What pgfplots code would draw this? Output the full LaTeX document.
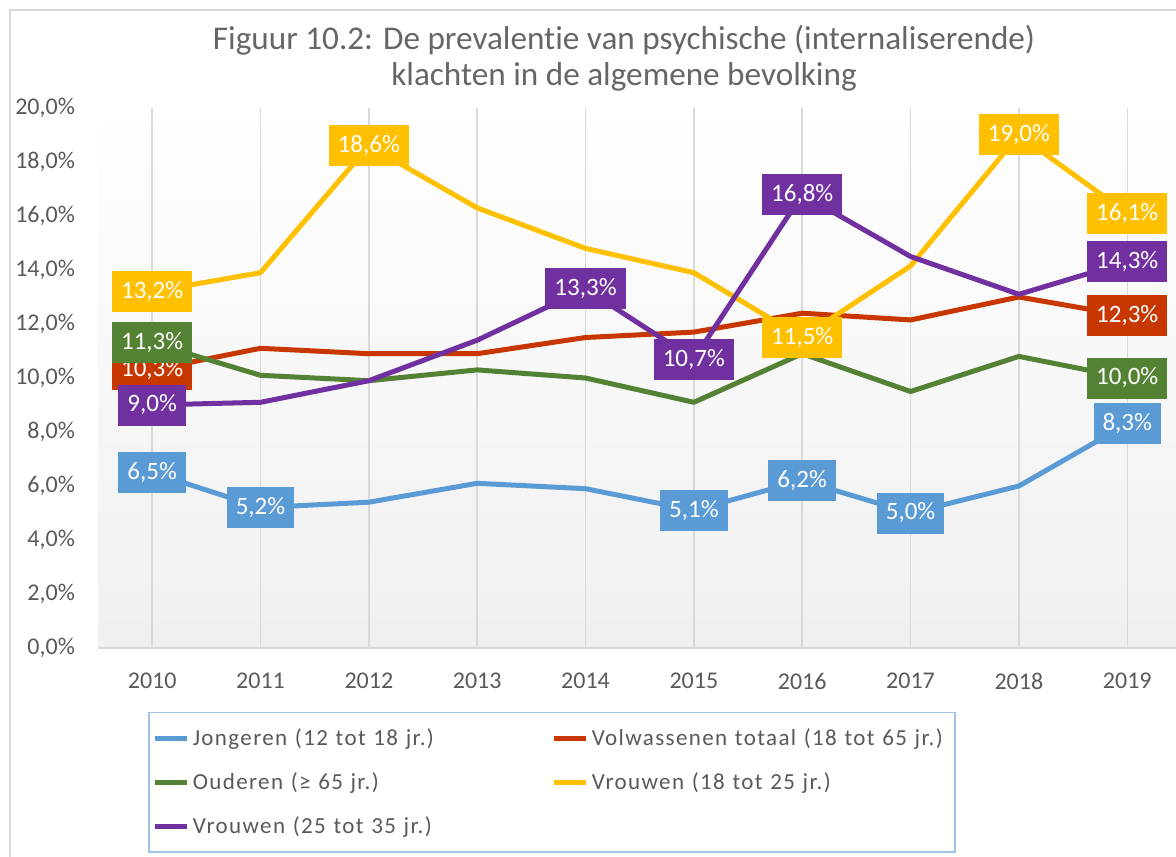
\documentclass[border=0pt]{standalone}
\usepackage{fontspec}
\setmainfont{Carlito}[Ligatures={NoCommon}]
\newfontfamily\legfont[LetterSpace=6,Ligatures={NoCommon}]{Carlito}
\usepackage{pgfplots}
\pgfplotsset{compat=1.18}

\definecolor{cBlue}{HTML}{5B9BD5}
\definecolor{cRed}{HTML}{C83700}
\definecolor{cGreen}{HTML}{548235}
\definecolor{cYellow}{HTML}{FFC000}
\definecolor{cPurple}{HTML}{7030A0}
\definecolor{cText}{HTML}{595959}
\definecolor{cTitle}{HTML}{666666}
\definecolor{cGrid}{HTML}{D9D9D9}
\definecolor{cLegBorder}{HTML}{9DC3E6}

\pgfplotsset{
  serie/.style={color=#1, line width=2.5pt, line join=round, mark=none},
  lbl/.style={draw=none, mark=none, forget plot, point meta=y,
    nodes near coords={\pgfmathprintnumber[fixed,fixed zerofill,precision=1,use comma]{\pgfplotspointmeta}\%},
    nodes near coords style={fill=#1, text=white, anchor=center,
      font=\fontsize{12.5}{14}\selectfont, inner xsep=4.5pt, inner ysep=0pt,
      minimum height=20.5pt, /pgf/number format/assume math mode=true}},
}

\begin{document}
\begin{tikzpicture}
\useasboundingbox (-49pt,-104pt) rectangle (539pt,324pt);
\draw[cGrid, line width=0.75pt] (-44pt,-110pt) -- (-44pt,319pt) -- (545pt,319pt);

\begin{axis}[
  at={(0,0)}, anchor=south west,
  scale only axis, width=539pt, height=270pt,
  xmin=-0.5, xmax=9.45, ymin=0, ymax=20,
  clip=false,
  axis x line*=bottom, axis y line*=left,
  x axis line style={draw=cGrid, line width=1pt, -},
  y axis line style={draw=none},
  major tick length=0pt,
  xtick={0,...,9},
  xticklabels={2010,2011,2012,2013,2014,2015,2016,2017,2018,2019},
  ytick={0,2,...,20},
  yticklabels={{0,0\%},{2,0\%},{4,0\%},{6,0\%},{8,0\%},{10,0\%},{12,0\%},{14,0\%},{16,0\%},{18,0\%},{20,0\%}},
  xticklabel style={font=\fontsize{12}{14}\selectfont, text=cText, yshift=-9pt},
  yticklabel style={font=\fontsize{12}{14}\selectfont, text=cText, xshift=-8pt},
  xmajorgrids, grid style={cGrid, line width=0.75pt},
  axis background/.style={shade, top color=white, bottom color=black!6, middle color=white!97!black},
  legend columns=2,
  legend image code/.code={\draw[#1] (0pt,0pt) -- (16pt,0pt);},
  legend style={at={(0.0464,-0.1185)}, anchor=north west,
    draw=cLegBorder, line width=0.75pt,
    font=\legfont\fontsize{11.5}{13}\selectfont, text=cText,
    nodes={text width=178pt, inner xsep=1.5pt},
    cells={anchor=west}, row sep=8pt, inner xsep=2pt, inner ysep=6pt},
]
% lines
\addplot[serie=cBlue] coordinates {(0,6.5)(1,5.2)(2,5.4)(3,6.1)(4,5.9)(5,5.1)(6,6.2)(7,5.0)(8,6.0)(9,8.3)};
\addlegendentry{Jongeren (12 tot 18 jr.)}
\addplot[serie=cRed] coordinates {(0,10.3)(1,11.1)(2,10.9)(3,10.9)(4,11.5)(5,11.7)(6,12.4)(7,12.15)(8,13.0)(9,12.3)};
\addlegendentry{Volwassenen totaal (18 tot 65 jr.)}
\addplot[serie=cGreen] coordinates {(0,11.3)(1,10.1)(2,9.9)(3,10.3)(4,10.0)(5,9.1)(6,10.9)(7,9.5)(8,10.8)(9,10.0)};
\addlegendentry{Ouderen (≥ 65 jr.)}
\addplot[serie=cYellow] coordinates {(0,13.2)(1,13.9)(2,18.6)(3,16.3)(4,14.8)(5,13.9)(6,11.5)(7,14.15)(8,19.0)(9,16.1)};
\addlegendentry{Vrouwen (18 tot 25 jr.)}
\addplot[serie=cPurple] coordinates {(0,9.0)(1,9.1)(2,9.9)(3,11.4)(4,13.3)(5,10.7)(6,16.8)(7,14.5)(8,13.1)(9,14.3)};
\addlegendentry{Vrouwen (25 tot 35 jr.)}
% data labels
\addplot[lbl=cBlue] coordinates {(0,6.5)(1,5.2)(5,5.1)(6,6.2)(7,5.0)(9,8.3)};
\addplot[lbl=cRed] coordinates {(0,10.3)(9,12.3)};
\addplot[lbl=cGreen] coordinates {(0,11.3)(9,10.0)};
\addplot[lbl=cYellow] coordinates {(0,13.2)(2,18.6)(6,11.5)(8,19.0)(9,16.1)};
\addplot[lbl=cPurple] coordinates {(0,9.0)(4,13.3)(5,10.7)(6,16.8)(9,14.3)};
\end{axis}

\node[font=\fontsize{16.6}{18}\selectfont, text=cTitle, align=center] at (263pt,295pt)
  {Figuur 10.2: De prevalentie van psychische (internaliserende)\\klachten in de algemene bevolking};
\end{tikzpicture}
\end{document}
